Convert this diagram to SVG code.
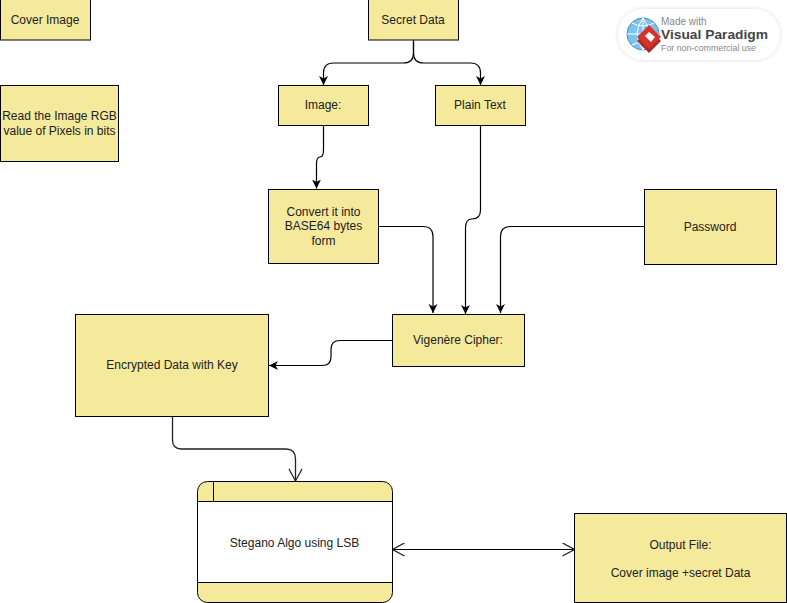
<svg xmlns="http://www.w3.org/2000/svg" width="787" height="603" viewBox="0 0 787 603">
<style>
text{font-family:"Liberation Sans",Arial,sans-serif;font-size:12px;fill:#222;text-anchor:middle}
.b{fill:#f5e99b;stroke:#000;stroke-width:1}
.c{fill:none;stroke:#000;stroke-width:1}
.a{fill:none;stroke:#000;stroke-width:1.200;marker-end:url(#f)}
.h{fill:none;stroke:#222;stroke-width:1.300;marker-end:url(#v)}
.o{fill:none;stroke:#000;stroke-width:1.200;marker-end:url(#v);marker-start:url(#vs)}
</style>
<defs>
<marker id="f" markerUnits="userSpaceOnUse" markerWidth="12" markerHeight="12" refX="9" refY="4.500" orient="auto"><path d="M0 0L9 4.500L0 9L2.500 4.500Z" fill="#000"/></marker>
<marker id="v" markerUnits="userSpaceOnUse" markerWidth="16" markerHeight="16" refX="13" refY="7" orient="auto"><path d="M1 0.500L13 7L1 13.500" fill="none" stroke="#222" stroke-width="1.300"/></marker>
<marker id="vs" markerUnits="userSpaceOnUse" markerWidth="16" markerHeight="16" refX="1" refY="7" orient="auto"><path d="M13 0.500L1 7L13 13.500" fill="none" stroke="#222" stroke-width="1.300"/></marker>
<filter id="sh" x="-10%" y="-20%" width="120%" height="140%"><feDropShadow dx="0" dy="0" stdDeviation="2" flood-color="#000" flood-opacity=".15"/></filter>
</defs>
<g id="connectors">
<path class="a" d="M413.500 40V53Q413.500 63 403.500 63H333.500Q323.500 63 323.500 73V85"/>
<path class="a" d="M413.500 40V53Q413.500 63 423.500 63H470.500Q480.500 63 480.500 73V85"/>
<path class="a" d="M323.500 125.500V150Q323.500 157 320 157Q316.500 157 316.500 164V188.500"/>
<path class="a" d="M480.500 125.500V210Q480.500 219 472 219Q465.500 219 465.500 228V314"/>
<path class="a" d="M378.500 226.500H423Q433 226.500 433 236.500V313"/>
<path class="a" d="M644.500 226.500H510.500Q500.500 226.500 500.500 236.500V313"/>
<path class="a" d="M392.500 340.500H340Q331 340.500 331 349V357Q331 365.500 322 365.500H269"/>
<path class="h" d="M172.500 416.500V440Q172.500 449 181.500 449H286Q295.500 449 295.500 459V481"/>
<path class="o" d="M392.500 549.500H574.500"/>
</g>
<g id="cover-image"><rect class="b" x="0.500" y="-0.500" width="90" height="40.500"/><text x="45" y="24">Cover Image</text></g>
<g id="read-rgb"><rect class="b" x="0.500" y="85.500" width="118" height="76"/><text x="59.500" y="120">Read the Image RGB</text><text x="59.500" y="135">value of Pixels in bits</text></g>
<g id="secret-data"><rect class="b" x="368.500" y="-0.500" width="90" height="40.500"/><text x="413" y="24">Secret Data</text></g>
<g id="image"><rect class="b" x="278.500" y="85.500" width="90" height="40"/><text x="323" y="109">Image:</text></g>
<g id="plain-text"><rect class="b" x="435.500" y="85.500" width="90" height="40"/><text x="480" y="109">Plain Text</text></g>
<g id="convert"><rect class="b" x="268.500" y="189.500" width="110" height="74"/><text x="323.500" y="216">Convert it into</text><text x="323.500" y="230">BASE64 bytes</text><text x="323.500" y="245">form</text></g>
<g id="password"><rect class="b" x="644.500" y="189.500" width="132" height="75"/><text x="710" y="231">Password</text></g>
<g id="vigenere"><rect class="b" x="392.500" y="314.500" width="132" height="52"/><text x="458" y="344">Vigenère Cipher:</text></g>
<g id="encrypted"><rect class="b" x="75.500" y="314.500" width="193" height="102"/><text x="172" y="369">Encrypted Data with Key</text></g>
<g id="stegano">
<rect class="b" x="197.500" y="481.500" width="195" height="121" rx="10"/>
<rect x="198" y="501.500" width="194" height="81" fill="#fff"/>
<path class="c" d="M197.500 501.500H392.500M197.500 582.500H392.500M213.500 481.500V501.500"/>
<text x="294.500" y="547">Stegano Algo using LSB</text>
</g>
<g id="output-file"><rect class="b" x="574.500" y="513.500" width="212" height="89"/><text x="680.500" y="549">Output File:</text><text x="680.500" y="577">Cover image +secret Data</text></g>
<g id="badge">
<rect x="618" y="9" width="162" height="51" rx="25.500" fill="#fff" filter="url(#sh)"/>
<circle cx="643" cy="34" r="16" fill="#7cc4ec" stroke="#4a8fc0"/>
<path d="M627 34H659M643 18V50M632 23Q643 29 654 23M632 45Q643 39 654 45M643 18Q631 34 643 50M643 18Q655 34 643 50" fill="none" stroke="#fff"/>
<path d="M637 41L649 53L661 41L649 29Z" fill="#a82a2a"/>
<path d="M637 37L649 49L661 37L649 25Z" fill="#d8322c"/>
<path d="M645 36L649 32L655 37L651 42Z" fill="#fff"/>
<text x="661" y="24.500" style="font-size:10px;fill:#888;text-anchor:start">Made with</text>
<text x="661" y="39" style="font-size:13px;font-weight:bold;fill:#444;text-anchor:start" textLength="107" lengthAdjust="spacingAndGlyphs">Visual Paradigm</text>
<text x="661" y="51" style="font-size:9.500px;fill:#888;text-anchor:start" textLength="95" lengthAdjust="spacingAndGlyphs">For non-commercial use</text>
</g>
</svg>
